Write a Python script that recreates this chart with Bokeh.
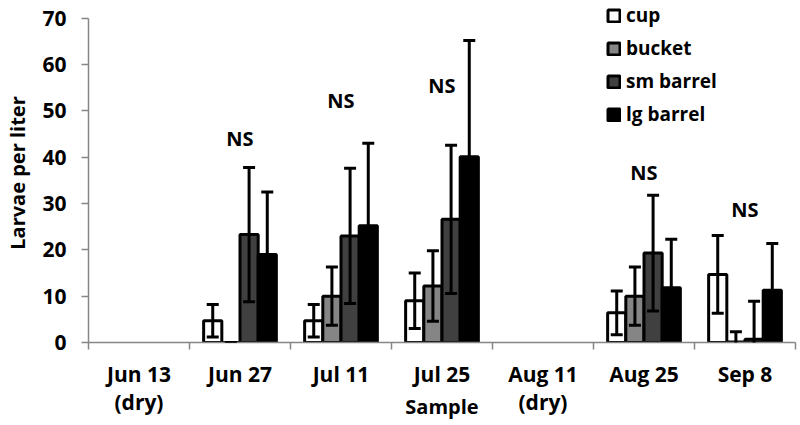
from bokeh.plotting import figure
from bokeh.models import (ColumnDataSource, Whisker, TeeHead, Range1d, FixedTicker)
from bokeh.transform import dodge
from bokeh.core.properties import value
from bokeh.embed import file_html
from bokeh.resources import INLINE

# ---------------- data ----------------
dates = ["Jun 13", "Jun 27", "Jul 11", "Jul 25", "Aug 11", "Aug 25", "Sep 8"]
tick_labels = ["Jun 13\n(dry)", "Jun 27", "Jul 11", "Jul 25", "Aug 11\n(dry)", "Aug 25", "Sep 8"]
sampled = ["Jun 27", "Jul 11", "Jul 25", "Aug 25", "Sep 8"]

cup = [4.7, 4.7, 9.0, 6.4, 14.7]
cup_err = [3.5, 3.5, 6.0, 4.7, 8.4]
bucket = [0.0, 10.0, 12.2, 10.0, 0.1]
bucket_err = [0.0, 6.3, 7.6, 6.3, 2.2]
sm_barrel = [23.3, 23.0, 26.6, 19.3, 0.7]
sm_barrel_err = [14.5, 14.6, 16.0, 12.5, 8.2]
lg_barrel = [19.0, 25.2, 40.1, 11.8, 11.3]
lg_barrel_err = [13.5, 17.8, 25.1, 10.5, 10.1]

ns_dates = ["Jun 27", "Jul 11", "Jul 25", "Aug 25", "Sep 8"]
ns_y = [44.0, 52.3, 55.5, 36.7, 28.7]

y_ticks = [0, 10, 20, 30, 40, 50, 60, 70]

series = [
    ("cup", cup, cup_err, "white"),
    ("bucket", bucket, bucket_err, "#858585"),
    ("sm barrel", sm_barrel, sm_barrel_err, "#404040"),
    ("lg barrel", lg_barrel, lg_barrel_err, "black"),
]
offsets = [-0.27, -0.09, 0.09, 0.27]
bar_w = 0.18

FONT = "Open Sans"

def pos(d):
    # centre of a category slot on the index axis
    return dates.index(d) + 0.5

p = figure(x_range=Range1d(0, len(dates)), y_range=Range1d(0, 73.2), width=800, height=425,
           output_backend="svg", toolbar_location=None,
           min_border_left=88, min_border_right=5, min_border_top=3,
           min_border_bottom=83)
p.xgrid.visible = False
p.ygrid.visible = False
p.outline_line_color = None
p.background_fill_color = "white"

data = {"x": [pos(d) for d in sampled]}
for name, vals, errs, _ in series:
    data[name] = vals
    data[name + "_hi"] = [v + e for v, e in zip(vals, errs)]
    data[name + "_lo"] = [v - e for v, e in zip(vals, errs)]
src = ColumnDataSource(data)

for (name, vals, errs, color), off in zip(series, offsets):
    p.vbar(x=dodge("x", off), top=name, width=bar_w, bottom=0,
           source=src, fill_color=color, line_color="black", line_width=3,
           legend_label=name)

for (name, vals, errs, color), off in zip(series, offsets):
    w = Whisker(source=src, base=dodge("x", off),
                upper=name + "_hi", lower=name + "_lo",
                line_color="black", line_width=3, level="annotation",
                upper_head=TeeHead(size=12, line_width=3, line_color="black"),
                lower_head=TeeHead(size=12, line_width=3, line_color="black"))
    p.add_layout(w)

p.text(x=[pos(d) for d in ns_dates], y=ns_y, text=["NS"] * len(ns_dates),
       text_font=value(FONT), text_font_style="bold", text_font_size="20px",
       text_align="center", text_baseline="middle", text_color="black")

# y axis
yax = p.yaxis[0]
yax.bounds = (0, 70)
yax.ticker = FixedTicker(ticks=y_ticks, minor_ticks=[])
yax.axis_line_color = "#868686"
yax.axis_line_width = 1.5
yax.major_tick_line_color = "#868686"
yax.major_tick_line_width = 1.5
yax.major_tick_out = 7
yax.major_tick_in = 0
yax.minor_tick_line_color = None
yax.major_label_standoff = 15
yax.major_label_text_font = FONT
yax.major_label_text_font_style = "bold"
yax.major_label_text_font_size = "21px"
yax.major_label_text_color = "black"
yax.axis_label = "Larvae per liter"
yax.axis_label_text_font = FONT
yax.axis_label_text_font_style = "bold"
yax.axis_label_text_font_size = "20px"
yax.axis_label_text_color = "black"
yax.axis_label_standoff = 8

# x axis: ticks at slot boundaries, labels at slot centres
xax = p.xaxis[0]
xax.ticker = FixedTicker(ticks=[pos(d) for d in dates],
                         minor_ticks=list(range(len(dates) + 1)))
xax.major_label_overrides = {pos(d): lab for d, lab in zip(dates, tick_labels)}
xax.axis_line_color = "#868686"
xax.axis_line_width = 1.5
xax.major_tick_line_color = None
xax.major_tick_out = 0
xax.major_tick_in = 0
xax.minor_tick_line_color = "#868686"
xax.minor_tick_line_width = 1.5
xax.minor_tick_out = 7
xax.minor_tick_in = 0
xax.major_label_standoff = 10
xax.major_label_text_font = FONT
xax.major_label_text_font_style = "bold"
xax.major_label_text_font_size = "21px"
xax.major_label_text_line_height = 1.0
xax.major_label_text_color = "black"
xax.axis_label = "Sample"
xax.axis_label_text_font = FONT
xax.axis_label_text_font_style = "bold"
xax.axis_label_text_font_size = "20px"
xax.axis_label_text_color = "black"
xax.axis_label_standoff = -26

# legend
lg = p.legend[0]
lg.location = (518, 215)
lg.border_line_color = None
lg.background_fill_alpha = 0
lg.padding = 0
lg.margin = 0
lg.spacing = 7
lg.glyph_width = 15
lg.glyph_height = 15
lg.label_height = 26
lg.label_standoff = 5
lg.label_text_font = FONT
lg.label_text_font_style = "bold"
lg.label_text_font_size = "19px"
lg.label_text_color = "black"

open("out.html", "w").write(file_html(p, INLINE))
